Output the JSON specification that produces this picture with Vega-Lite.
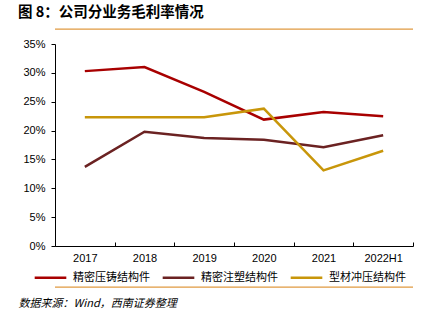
{
  "$schema": "https://vega.github.io/schema/vega-lite/v6.json",
  "width": 358,
  "height": 202,
  "autosize": {"type": "none"},
  "padding": {"left": 55, "top": 44, "right": 19, "bottom": 80},
  "background": "white",
  "title": {
    "text": "图 8：公司分业务毛利率情况",
    "anchor": "start",
    "frame": "group",
    "font": "Noto Sans CJK SC",
    "fontSize": 14.5,
    "fontWeight": "bold",
    "color": "#000000",
    "dx": -37,
    "offset": 8
  },
  "config": {
    "view": {"stroke": null},
    "axis": {"grid": false, "domain": true, "ticks": true, "domainColor": "#000000", "domainWidth": 1, "tickColor": "#000000", "labelColor": "#000000", "labelFont": "Liberation Sans", "labelFontSize": 11, "labelOverlap": false}
  },
  "datasets": {
    "margin": [
      {"year": "2017", "series": "精密压铸结构件", "value": 0.303},
      {"year": "2018", "series": "精密压铸结构件", "value": 0.310},
      {"year": "2019", "series": "精密压铸结构件", "value": 0.267},
      {"year": "2020", "series": "精密压铸结构件", "value": 0.219},
      {"year": "2021", "series": "精密压铸结构件", "value": 0.232},
      {"year": "2022H1", "series": "精密压铸结构件", "value": 0.225},
      {"year": "2017", "series": "精密注塑结构件", "value": 0.137},
      {"year": "2018", "series": "精密注塑结构件", "value": 0.198},
      {"year": "2019", "series": "精密注塑结构件", "value": 0.187},
      {"year": "2020", "series": "精密注塑结构件", "value": 0.184},
      {"year": "2021", "series": "精密注塑结构件", "value": 0.171},
      {"year": "2022H1", "series": "精密注塑结构件", "value": 0.192},
      {"year": "2017", "series": "型材冲压结构件", "value": 0.223},
      {"year": "2018", "series": "型材冲压结构件", "value": 0.223},
      {"year": "2019", "series": "型材冲压结构件", "value": 0.223},
      {"year": "2020", "series": "型材冲压结构件", "value": 0.238},
      {"year": "2021", "series": "型材冲压结构件", "value": 0.131},
      {"year": "2022H1", "series": "型材冲压结构件", "value": 0.165}
    ]
  },
  "layer": [
    {
      "data": {"name": "margin"},
      "mark": {"type": "line", "strokeWidth": 2.5},
      "encoding": {
        "x": {
          "field": "year",
          "type": "ordinal",
          "bandPosition": 0.5,
          "sort": ["2017", "2018", "2019", "2020", "2021", "2022H1"],
          "scale": {"type": "band", "paddingInner": 0, "paddingOuter": 0},
          "axis": {
            "labelAngle": 0,
            "tickBand": "extent",
            "tickSize": -4,
            "labelPadding": 10,
            "title": "数据来源：Wind，西南证券整理",
            "titleFont": "Noto Sans CJK SC",
            "titleFontSize": 11,
            "titleFontStyle": "italic",
            "titleFontWeight": "normal",
            "titleColor": "#000000",
            "titleAnchor": "start",
            "titleAlign": "left",
            "titleBaseline": "top",
            "titleX": -37,
            "titleY": 51
          }
        },
        "y": {
          "field": "value",
          "type": "quantitative",
          "scale": {"domain": [0, 0.35]},
          "axis": {"values": [0, 0.05, 0.1, 0.15, 0.2, 0.25, 0.3, 0.35], "format": ".0%", "tickSize": 4, "labelPadding": 6, "title": null, "domain": true, "domainColor": "#000000"}
        },
        "color": {
          "field": "series",
          "type": "nominal",
          "scale": {"domain": ["精密压铸结构件", "精密注塑结构件", "型材冲压结构件"], "range": ["#A80000", "#6B2222", "#C8960A"]},
          "legend": {
            "title": null,
            "orient": "none",
            "direction": "horizontal",
            "legendX": -22,
            "legendY": 216,
            "symbolType": "stroke",
            "symbolSize": 1000,
            "symbolStrokeWidth": 2.5,
            "labelFont": "Noto Sans CJK SC",
            "labelFontSize": 11,
            "labelColor": "#000000",
            "labelOffset": 5,
            "columnPadding": 7
          }
        }
      }
    },
    {
      "data": {"values": [{"k": "top"}]},
      "mark": {"type": "rule", "color": "#E09A40", "strokeWidth": 1.2, "clip": false},
      "encoding": {"y": {"datum": 0.3757, "type": "quantitative", "scale": {"domain": [0, 0.35]}, "axis": {"values": [0, 0.05, 0.1, 0.15, 0.2, 0.25, 0.3, 0.35], "format": ".0%", "tickSize": 4, "labelPadding": 6, "title": null, "domain": true, "domainColor": "#000000"}}}
    },
    {
      "data": {"values": [{"k": "bottom"}]},
      "mark": {"type": "rule", "color": "#E09A40", "strokeWidth": 1.2, "clip": false},
      "encoding": {"y": {"datum": -0.0713, "type": "quantitative", "scale": {"domain": [0, 0.35]}, "axis": {"values": [0, 0.05, 0.1, 0.15, 0.2, 0.25, 0.3, 0.35], "format": ".0%", "tickSize": 4, "labelPadding": 6, "title": null, "domain": true, "domainColor": "#000000"}}}
    }
  ]
}
